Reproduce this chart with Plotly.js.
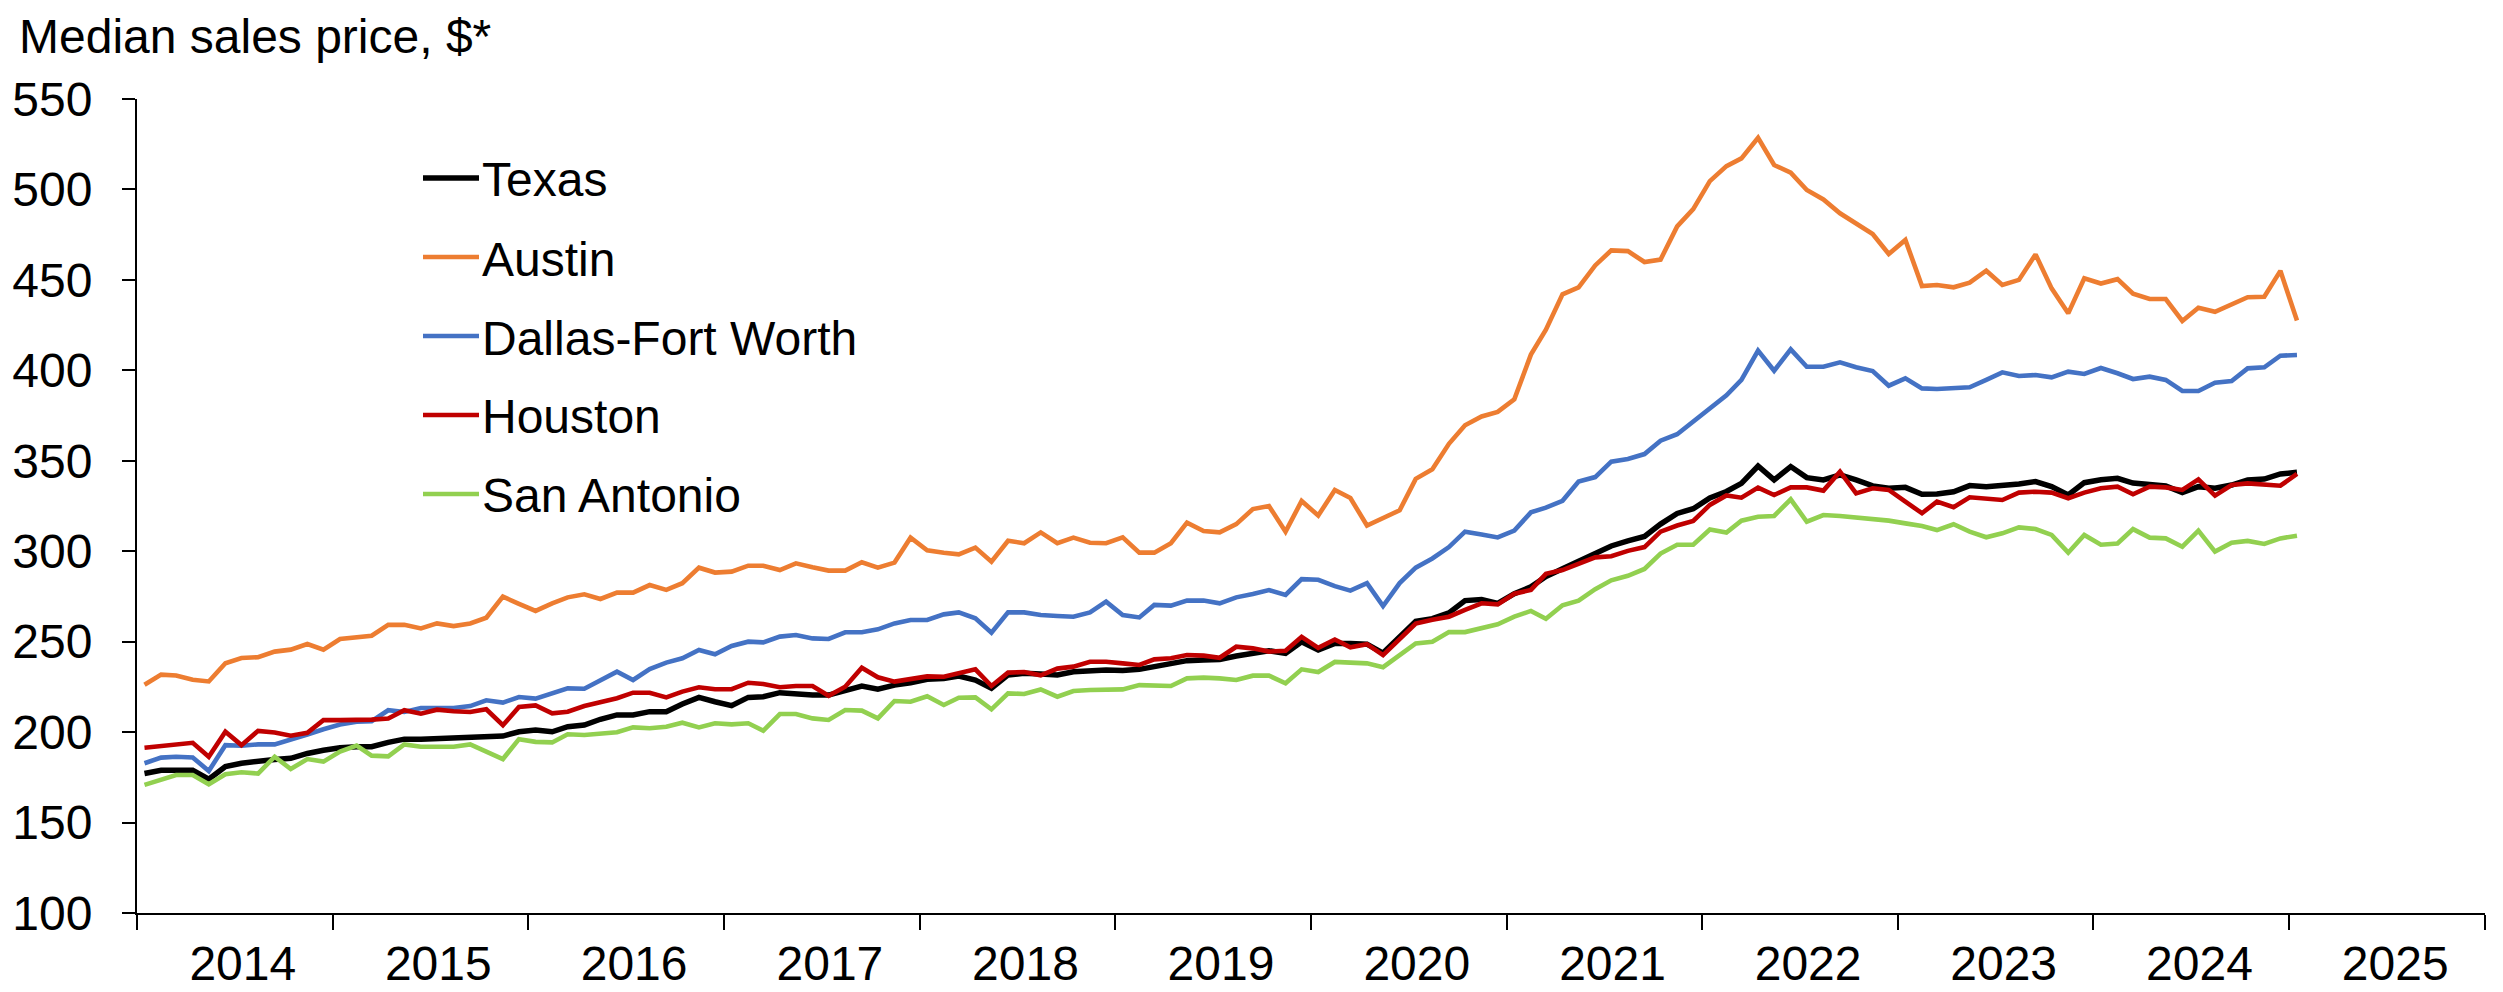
<!DOCTYPE html>
<html>
<head>
<meta charset="utf-8">
<script src="https://cdn.plot.ly/plotly-3.0.1.min.js"></script>
<style>
  html, body { margin: 0; padding: 0; background: #fff; }
  #chart { width: 2503px; height: 992px; }
</style>
</head>
<body>
<div id="chart"></div>
<script>
// Median sales price, thousands of $, monthly Jan 2014 - Jan 2025 (one row per year)
const startYear = 2014;

const texas = [
  177.1,178.9,178.9,178.9,174.0,181.0,182.8,184.0,184.9,185.5,188.2,190.0,
  191.4,191.9,191.9,194.3,196.1,196.1,196.5,196.9,197.2,197.2,197.8,200.2,
  201.2,200.2,203.0,203.9,207.1,209.5,209.5,211.3,211.3,215.5,219.2,216.8,
  214.6,219.2,219.6,221.8,221.1,220.5,220.5,222.9,225.5,223.7,226.0,227.3,
  229.2,229.7,231.0,228.8,224.2,231.6,232.5,232.1,231.6,233.4,234.0,234.3,
  234.0,234.7,236.2,238.0,239.5,239.9,240.2,242.1,243.5,245.0,243.5,250.0,
  245.4,249.0,249.0,248.6,243.7,252.2,261.3,262.7,265.9,272.7,273.3,271.2,
  276.5,280.3,286.0,290.3,294.5,299.1,302.9,305.7,308.2,315.0,320.9,323.5,
  329.4,333.0,337.5,347.1,339.4,346.8,340.7,339.4,342.2,339.4,336.1,334.8,
  335.3,331.5,331.6,332.9,336.3,335.7,336.1,337.2,338.5,335.7,331.1,337.9,
  339.5,340.3,337.7,337.2,336.1,332.4,335.7,334.8,336.6,339.4,339.9,342.7,
  343.6
];

const austin = [
  226.2,231.8,231.3,228.9,228.0,238.1,241.0,241.4,244.5,245.6,248.7,245.6,
  251.5,252.2,253.3,259.3,259.3,257.3,260.1,258.6,260.1,263.2,274.9,270.9,
  267.0,271.2,274.5,276.2,273.6,277.1,277.1,281.3,278.6,282.3,290.9,288.2,
  288.7,292.0,292.0,289.6,293.3,291.1,289.3,289.3,293.9,290.9,293.7,307.5,
  300.5,299.2,298.3,302.0,294.2,305.8,304.4,310.4,304.4,307.5,304.7,304.4,
  307.7,299.2,299.2,304.4,315.8,311.2,310.4,315.0,323.3,325.0,310.8,327.8,
  319.7,333.9,329.4,314.2,318.4,322.6,340.0,345.3,359.4,369.6,374.5,377.0,
  384.0,408.7,422.5,442.0,445.8,458.0,466.3,465.9,459.9,461.2,479.6,489.1,
  504.6,512.9,517.2,528.6,513.5,509.3,499.7,494.5,486.8,480.9,475.4,464.3,
  472.1,446.6,447.2,445.9,448.5,455.1,447.2,450.0,464.1,445.3,431.5,450.9,
  448.0,450.4,442.4,439.4,439.4,427.3,434.6,432.4,436.7,440.4,440.7,455.0,
  427.5
];

const dallas = [
  182.8,185.9,186.4,186.0,178.5,192.8,192.5,193.2,193.2,195.6,198.7,201.6,
  204.2,205.7,206.0,212.1,211.1,213.3,213.3,213.3,214.4,217.6,216.3,219.4,
  218.5,221.1,224.2,224.0,228.4,233.4,228.8,234.9,238.4,240.8,245.4,243.0,
  247.6,250.0,249.6,252.8,253.7,251.8,251.5,255.2,255.2,256.8,260.1,262.0,
  262.0,265.1,266.2,262.9,255.0,266.2,266.2,264.7,264.2,263.8,266.2,272.1,
  264.7,263.4,270.3,269.9,272.7,272.7,271.2,274.5,276.3,278.5,275.8,284.6,
  284.2,280.7,278.2,282.4,269.7,282.4,290.9,296.0,302.3,310.8,309.3,307.6,
  311.4,321.5,324.1,327.9,338.5,341.0,349.5,351.0,353.7,361.1,364.7,371.7,
  378.7,386.2,394.7,410.9,399.8,411.6,402.0,402.0,404.4,401.7,399.6,391.5,
  395.6,390.0,389.7,390.0,390.6,394.7,398.9,396.9,397.4,396.1,399.3,398.0,
  401.3,398.4,395.2,396.5,394.7,388.6,388.6,393.2,394.1,401.1,401.7,408.1,
  408.5
];

const houston = [
  191.4,192.3,192.8,194.1,186.4,200.2,192.8,200.7,199.8,198.0,199.6,206.6,
  206.6,206.6,206.9,207.5,212.1,210.2,212.4,211.5,211.1,212.6,203.8,213.9,
  214.8,210.4,211.3,214.4,216.3,218.7,221.8,221.8,219.2,222.4,224.8,223.7,
  223.7,227.3,226.6,224.8,225.5,225.5,220.1,225.1,235.6,230.3,227.9,229.2,
  230.8,230.6,232.5,234.7,225.5,232.9,233.2,231.4,235.1,236.2,238.9,238.9,
  238.0,237.1,240.2,240.8,242.6,242.3,241.1,247.2,246.3,244.5,245.0,252.7,
  246.6,251.2,246.9,248.6,242.6,251.1,260.0,262.1,263.8,267.6,271.2,270.6,
  276.5,278.6,287.5,289.6,293.0,296.6,297.2,300.2,302.3,310.8,314.2,316.7,
  325.6,330.8,329.6,335.2,331.1,335.3,335.3,333.5,344.0,332.0,334.8,333.9,
  327.4,321.0,327.4,324.3,329.8,329.3,328.3,332.4,332.9,332.4,329.3,332.4,
  334.8,335.7,331.5,335.7,335.3,333.9,339.7,330.7,336.6,337.5,336.6,336.2,
  342.7
];

const sanAntonio = [
  170.8,173.6,176.3,176.3,171.2,176.7,177.8,177.1,186.4,179.6,185.1,183.7,
  189.2,192.5,187.0,186.6,193.2,191.9,191.9,191.9,193.2,189.5,185.1,196.1,
  194.6,194.3,198.8,198.4,199.0,199.9,202.6,202.1,203.0,205.2,202.6,204.9,
  204.3,204.9,200.8,210.0,210.0,207.6,206.7,212.2,211.9,207.6,217.2,216.8,
  219.8,215.0,219.0,219.2,212.6,221.4,221.1,223.6,219.6,222.7,223.3,223.3,
  223.6,226.0,226.0,225.5,229.7,230.1,229.7,228.8,231.2,231.2,227.0,234.7,
  233.2,238.8,238.4,238.0,235.9,242.2,249.0,250.0,255.3,255.3,257.4,259.6,
  263.8,267.0,262.7,270.1,272.7,279.0,283.9,286.4,290.2,298.7,303.6,303.6,
  312.0,310.3,316.9,319.1,319.5,328.7,316.3,320.0,319.5,318.7,318.2,316.9,
  315.4,313.9,311.7,314.9,310.8,307.7,309.9,313.2,312.3,309.0,299.2,309.0,
  303.6,304.3,312.2,307.5,307.1,302.5,311.4,299.8,304.7,305.7,304.0,307.1,
  308.6
];

const seriesNames = ["Texas", "Austin", "Dallas-Fort Worth", "Houston", "San Antonio"];
const seriesColors = ["#000000", "#ED7D31", "#4472C4", "#C00000", "#92D050"];
const seriesWidths = [5.5, 4.6, 4.6, 4.6, 4.6];
const seriesValues = [texas, austin, dallas, houston, sanAntonio];

// mid-month dates for each observation
const months = texas.map((_, i) => {
  const y = startYear + Math.floor(i / 12);
  const m = (i % 12) + 1;
  return `${y}-${String(m).padStart(2, "0")}-15`;
});

const traces = seriesNames.map((name, k) => ({
  x: months,
  y: seriesValues[k],
  name: name,
  type: "scatter",
  mode: "lines",
  showlegend: false,
  line: { color: seriesColors[k], width: seriesWidths[k] }
}));

// plot area in page pixels, used to place the hand-made legend
const W = 2503, H = 992;
const plotL = 137, plotR = 2485, plotT = 99, plotB = 913;
const px = v => (v - plotL) / (plotR - plotL);
const py = v => (plotB - v) / (plotB - plotT);

const fontFamily = "Liberation Sans, Arial, sans-serif";
const axisFont = { family: fontFamily, size: 48, color: "#000" };

const legendShapes = seriesNames.map((name, k) => ({
  type: "line", xref: "paper", yref: "paper",
  x0: px(423), x1: px(479),
  y0: py(178 + 79 * k), y1: py(178 + 79 * k),
  line: { color: seriesColors[k], width: seriesWidths[k] }
}));

const legendLabels = seriesNames.map((name, k) => ({
  xref: "paper", yref: "paper",
  x: px(480), y: py(180 + 79 * k),
  xanchor: "left", yanchor: "middle",
  text: name, showarrow: false,
  font: axisFont
}));

const layout = {
  width: W,
  height: H,
  margin: { l: plotL, r: W - plotR, t: plotT, b: H - plotB },
  paper_bgcolor: "#fff",
  plot_bgcolor: "#fff",
  font: axisFont,
  title: {
    text: "Median sales price, $*",
    font: { family: fontFamily, size: 48, color: "#000" },
    xref: "container", x: 0.0076, xanchor: "left",
    yref: "container", y: 1 - 36 / H, yanchor: "middle"
  },
  showlegend: false,
  shapes: legendShapes,
  annotations: legendLabels,
  xaxis: {
    type: "date",
    range: ["2014-01-01", "2026-01-01"],
    tick0: "2014-01-01",
    dtick: "M12",
    ticklabelmode: "period",
    tickformat: "%Y",
    ticklabelshift: 8,
    ticklabelstandoff: -8,
    ticks: "outside", ticklen: 15, tickwidth: 2, tickcolor: "#000",
    showline: true, linecolor: "#000", linewidth: 2,
    showgrid: false, zeroline: false,
    tickfont: axisFont
  },
  yaxis: {
    range: [100, 550],
    tick0: 100, dtick: 50,
    ticks: "outside", ticklen: 13, tickwidth: 2, tickcolor: "#000",
    ticklabelstandoff: 20,
    showline: true, linecolor: "#000", linewidth: 2,
    showgrid: false, zeroline: false,
    tickfont: axisFont
  }
};

Plotly.newPlot("chart", traces, layout, { displayModeBar: false, staticPlot: true });
</script>
</body>
</html>
